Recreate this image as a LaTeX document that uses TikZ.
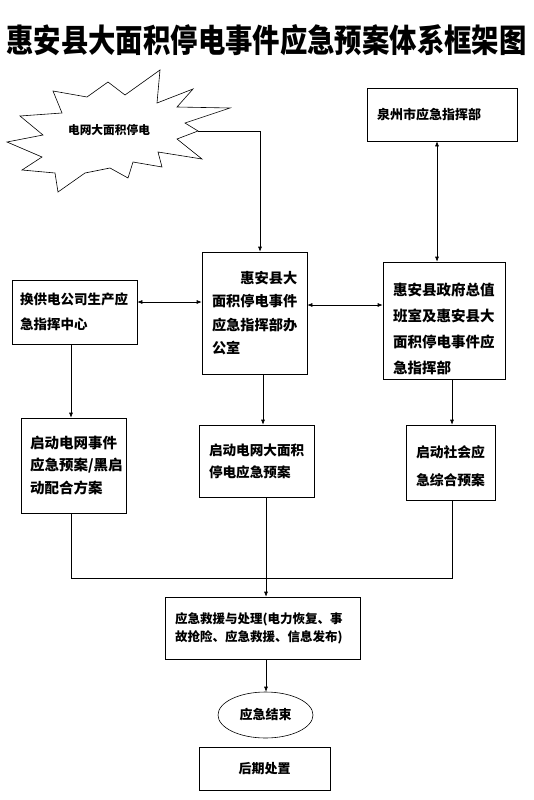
\documentclass[tikz,border=0pt]{standalone}
\usepackage{graphicx}
\usepackage{fontspec}
\newfontfamily\cjk{Noto Sans CJK SC}
\usetikzlibrary{arrows.meta,shapes.geometric}
\tikzset{
  boite/.style={draw, rectangle, inner xsep=10pt, inner ysep=0pt, align=left,
    font=\cjk\bfseries\fontsize{14}{23}\selectfont},
  taille/.style 2 args={font=\cjk\bfseries\fontsize{#1}{#2}\selectfont},
  fleche/.style={-{Latex[length=5pt,width=4pt]}},
  dfleche/.style={{Latex[length=5pt,width=4pt]}-{Latex[length=5pt,width=4pt]}},
}

\begin{document}
\begin{tikzpicture}[x=1pt, y=-1pt, line width=0.6pt]
	\useasboundingbox (0,0) rectangle (533,800);
	% titre
	\node[inner sep=0pt] (titre) at (266.5,40) {\resizebox{520pt}{28pt}{\cjk\bfseries\fontsize{30}{36}\selectfont 惠安县大面积停电事件应急预案体系框架图}};
	% l'eclair (polygone en etoile)
	\draw (160,70) -- (157,103) -- (193,89) -- (177,107) -- (230,108) -- (185,123)
		-- (198,131) -- (177,139) -- (202,159) -- (158,152) -- (162,167) -- (133,162)
		-- (128,178) -- (110,168) -- (85,173) -- (58,192) -- (55,173) -- (22,170)
		-- (42,157) -- (7,142) -- (43,135) -- (20,116) -- (62,113) -- (53,91)
		-- (87,97) -- (108,82) -- (125,95) -- cycle;
	\coordinate (eclat) at (198,131);
	\node[taille={11.7}{14}, inner sep=0pt] (panne) at (109,130) {电网大面积停电};
	% les boites
	\node[boite, taille={13}{20}, text width=130pt, minimum height=53pt] (quanzhou) at (442,114.5) {泉州市应急指挥部};
	\node[boite, taille={13.5}{25}, inner xsep=8pt, text width=109pt, minimum height=64pt] (gongdian) at (74.5,312) {换供电公司生产应\\急指挥中心};
	\node[boite, taille={14.2}{23.3}, text width=85pt, minimum height=122pt] (bureau) at (254.5,313) {\hspace*{2em}惠安县大\\面积停电事件\\应急指挥部办\\公室};
	\node[boite, taille={14.5}{26}, text width=102pt, minimum height=117pt] (zhengfu) at (444,320.5) {\rule{0pt}{29pt}惠安县政府总值\\班室及惠安县大\\面积停电事件应\\急指挥部};
	\node[boite, taille={14.5}{22.5}, inner xsep=9pt, text width=87pt, minimum height=95pt] (reseau) at (73.5,465.5) {启动电网事件\\应急预案/黑启\\动配合方案};
	\node[boite, taille={13.6}{22}, text width=95pt, minimum height=72pt] (grandepanne) at (256.5,461) {启动电网大面积\\停电应急预案};
	\node[boite, taille={13.8}{28}, text width=69pt, minimum height=75pt] (social) at (450.5,462.5) {\rule{0pt}{20pt}启动社会应\\急综合预案};
	\node[boite, taille={12.5}{18}, text width=175pt, minimum height=62pt] (secours) at (262.5,628) {应急救援与处理(电力恢复、事\\故抢险、应急救援、信息发布)};
	\node[draw, ellipse, taille={13}{16}, minimum width=95pt, minimum height=46pt, inner sep=0pt] (fin) at (265.5,715) {应急结束};
	\node[boite, align=center, taille={13}{16}, text width=111pt, minimum height=43pt] (suite) at (264.5,768.5) {后期处置};
	% reperes des liaisons
	\coordinate (axe) at (437,0);
	\coordinate (gauche) at (0,302);
	\coordinate (droite) at (0,305);
	\coordinate (colg) at (71,0);
	\coordinate (colm) at (263,0);
	\coordinate (colb) at (266,0);
	\coordinate (cold) at (452,0);
	\coordinate (jonction) at (0,578);
	% liaisons
	\draw[fleche] (eclat) -| ([xshift=5.5pt]bureau.north);
	\draw[dfleche] (quanzhou.south -| axe) -- (zhengfu.north -| axe);
	\draw[dfleche] (gongdian.east |- gauche) -- (bureau.west |- gauche);
	\draw[dfleche] (bureau.east |- droite) -- (zhengfu.west |- droite);
	\draw[fleche] (gongdian.south -| colg) -- (reseau.north -| colg);
	\draw[fleche] (bureau.south -| colm) -- (grandepanne.north -| colm);
	\draw[fleche] (zhengfu.south -| cold) -- (social.north -| cold);
	\draw (reseau.south -| colg) |- (jonction -| cold) -- (social.south -| cold);
	\draw[fleche] (grandepanne.south -| colb) -- (secours.north -| colb);
	\draw[fleche] (secours.south -| colb) -- (fin.north -| colb);
\end{tikzpicture}
\end{document}
